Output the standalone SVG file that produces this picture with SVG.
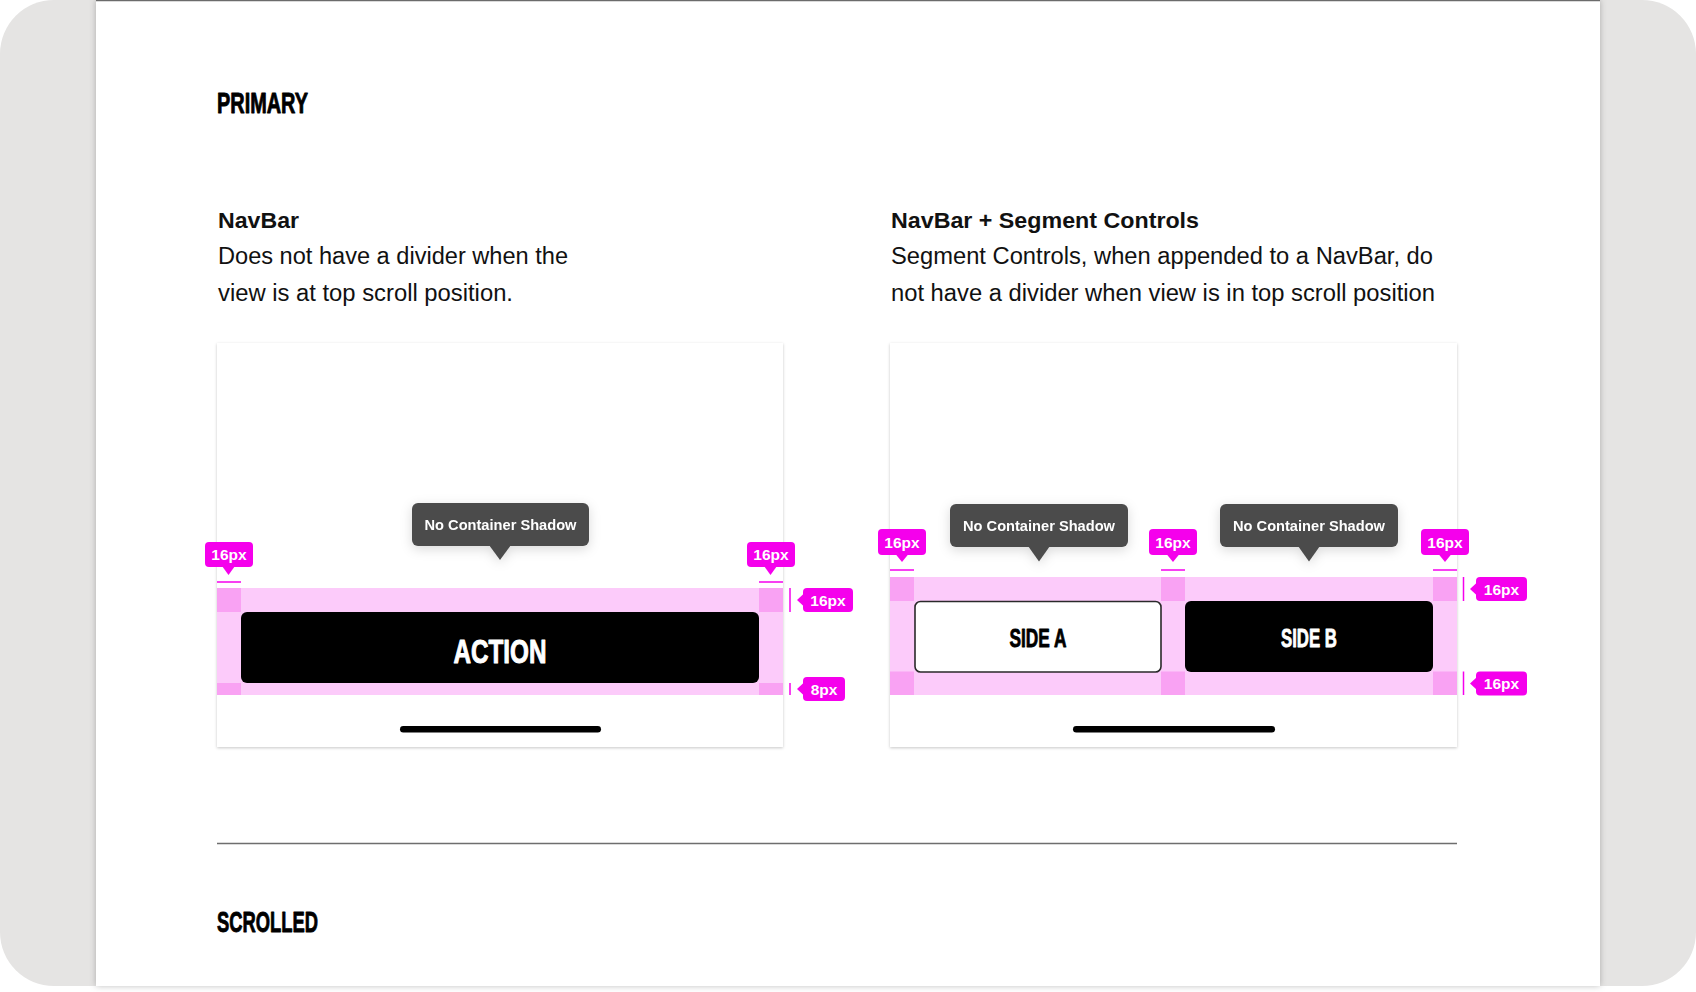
<svg xmlns="http://www.w3.org/2000/svg" width="1696" height="992" viewBox="0 0 1696 992">
<defs>
<style>
.cond{font-family:"Liberation Sans",Arial,sans-serif;font-weight:bold;stroke-linejoin:round;}
.head{font-family:"Liberation Sans",Arial,sans-serif;font-weight:bold;font-size:22px;fill:#111;}
.body{font-family:"Liberation Sans",Arial,sans-serif;font-size:23px;fill:#111;}
.tip{fill:#4b4b4b;}
.tipt{font-family:"Liberation Sans",Arial,sans-serif;font-weight:bold;font-size:14.5px;fill:#fff;text-anchor:middle;}
.mag{fill:#f500ec;}
.magl{stroke:#f500ec;stroke-width:1.5;fill:none;}
.magt{font-family:"Liberation Sans",Arial,sans-serif;font-weight:bold;font-size:15.5px;fill:#fff;text-anchor:middle;}
.band{fill:#fccbfa;}
.sq{fill:#f9a2f3;}
.card{fill:#fff;}
</style>
<filter id="pageSh" x="-5%" y="-5%" width="110%" height="110%">
<feDropShadow dx="0" dy="0" stdDeviation="3" flood-color="#000" flood-opacity="0.25"/>
</filter>
<filter id="cardSh" x="-5%" y="-5%" width="110%" height="110%">
<feDropShadow dx="0" dy="1" stdDeviation="1.5" flood-color="#000" flood-opacity="0.22"/>
</filter>
<filter id="tipSh" x="-30%" y="-60%" width="160%" height="220%">
<feDropShadow dx="0" dy="3" stdDeviation="6" flood-color="#000" flood-opacity="0.15"/>
</filter>
</defs>

<rect x="0" y="0" width="1696" height="992" fill="#fff"/>
<rect x="0" y="0" width="1696" height="986" rx="54" ry="54" fill="#e5e4e3"/>
<rect x="96" y="0" width="1504" height="986" fill="#fff" filter="url(#pageSh)"/>
<rect x="96" y="0" width="1504" height="986" fill="#fff"/>
<line x1="96" y1="0.5" x2="1600" y2="0.5" stroke="#6b6b6b" stroke-width="1.5"/>

<g id="title-primary">
<text class="cond" x="217" y="113" font-size="29" textLength="91" lengthAdjust="spacingAndGlyphs" fill="#000" stroke="#000" stroke-width="0.9">PRIMARY</text>
</g>

<g id="navbar-desc">
<text class="head" x="218" y="228" textLength="81" lengthAdjust="spacingAndGlyphs">NavBar</text>
<text class="body" x="218" y="264" textLength="350" lengthAdjust="spacingAndGlyphs">Does not have a divider when the</text>
<text class="body" x="218" y="301" textLength="295" lengthAdjust="spacingAndGlyphs">view is at top scroll position.</text>
</g>

<g id="segment-desc">
<text class="head" x="891" y="228" textLength="308" lengthAdjust="spacingAndGlyphs">NavBar + Segment Controls</text>
<text class="body" x="891" y="264" textLength="542" lengthAdjust="spacingAndGlyphs">Segment Controls, when appended to a NavBar, do</text>
<text class="body" x="891" y="301" textLength="544" lengthAdjust="spacingAndGlyphs">not have a divider when view is in top scroll position</text>
</g>

<g id="card-navbar">
<rect class="card" x="217" y="343" width="566" height="404" filter="url(#cardSh)"/>
<rect class="band" x="217" y="588" width="566" height="107"/>
<rect class="sq" x="217" y="588" width="24" height="24"/>
<rect class="sq" x="759" y="588" width="24" height="24"/>
<rect class="sq" x="217" y="683" width="24" height="12"/>
<rect class="sq" x="759" y="683" width="24" height="12"/>
<rect x="241" y="612" width="518" height="71" rx="6" fill="#000"/>
<text class="cond" x="453.5" y="662.5" font-size="34" textLength="93" lengthAdjust="spacingAndGlyphs" fill="#fff" stroke="#fff" stroke-width="1">ACTION</text>
<rect x="400" y="726" width="201" height="6.5" rx="3.25" fill="#000"/>
</g>

<g id="tooltip-navbar" filter="url(#tipSh)">
<rect class="tip" x="412" y="503" width="177" height="43" rx="6"/>
<path class="tip" d="M489 545 L511 545 L500 560 Z"/>
<text class="tipt" x="500.5" y="530" textLength="152" lengthAdjust="spacingAndGlyphs">No Container Shadow</text>
</g>

<g id="spec-navbar">
<rect class="mag" x="205" y="542" width="48" height="25" rx="4"/>
<path class="mag" d="M222 566 L235 566 L228.5 575 Z"/>
<text class="magt" x="229" y="560">16px</text>
<line class="magl" x1="217" y1="582" x2="241" y2="582"/>

<rect class="mag" x="747" y="542" width="48" height="25" rx="4"/>
<path class="mag" d="M764 566 L777 566 L770.5 575 Z"/>
<text class="magt" x="771" y="560">16px</text>
<line class="magl" x1="759" y1="582" x2="783" y2="582"/>

<line class="magl" x1="790" y1="588" x2="790" y2="612"/>
<rect class="mag" x="803" y="588" width="50" height="24" rx="4"/>
<path class="mag" d="M804 593.5 L804 606.5 L797 600 Z"/>
<text class="magt" x="828" y="605.5">16px</text>

<line class="magl" x1="790" y1="683" x2="790" y2="695"/>
<rect class="mag" x="803" y="677" width="42" height="24" rx="4"/>
<path class="mag" d="M804 682.5 L804 695.5 L797 689 Z"/>
<text class="magt" x="824" y="694.5">8px</text>
</g>

<g id="card-segment">
<rect class="card" x="890" y="343" width="567" height="404" filter="url(#cardSh)"/>
<rect class="band" x="890" y="577" width="567" height="118"/>
<rect class="sq" x="890" y="577" width="24" height="24"/>
<rect class="sq" x="1161" y="577" width="24" height="24"/>
<rect class="sq" x="1433" y="577" width="24" height="24"/>
<rect class="sq" x="890" y="671.5" width="24" height="23.5"/>
<rect class="sq" x="1161" y="671.5" width="24" height="23.5"/>
<rect class="sq" x="1433" y="671.5" width="24" height="23.5"/>
<rect x="915" y="601.5" width="246" height="70.5" rx="5.5" fill="#fff" stroke="#2a2a2a" stroke-width="1.6"/>
<text class="cond" x="1009.5" y="646.5" font-size="25" textLength="57" lengthAdjust="spacingAndGlyphs" fill="#000" stroke="#000" stroke-width="0.8">SIDE A</text>
<rect x="1185" y="601" width="248" height="71" rx="6" fill="#000"/>
<text class="cond" x="1281" y="646.5" font-size="25" textLength="56" lengthAdjust="spacingAndGlyphs" fill="#fff" stroke="#fff" stroke-width="0.8">SIDE B</text>
<rect x="1073" y="726" width="202" height="6.5" rx="3.25" fill="#000"/>
</g>

<g id="tooltip-side-a" filter="url(#tipSh)">
<rect class="tip" x="950" y="504" width="178" height="43" rx="6"/>
<path class="tip" d="M1028 546 L1050 546 L1039 561.5 Z"/>
<text class="tipt" x="1039" y="531" textLength="152" lengthAdjust="spacingAndGlyphs">No Container Shadow</text>
</g>

<g id="tooltip-side-b" filter="url(#tipSh)">
<rect class="tip" x="1220" y="504" width="178" height="43" rx="6"/>
<path class="tip" d="M1298 546 L1320 546 L1309 561.5 Z"/>
<text class="tipt" x="1309" y="531" textLength="152" lengthAdjust="spacingAndGlyphs">No Container Shadow</text>
</g>

<g id="spec-segment">
<rect class="mag" x="878" y="529" width="48" height="26" rx="4"/>
<path class="mag" d="M895.5 554 L908.5 554 L902 562 Z"/>
<text class="magt" x="902" y="547.5">16px</text>
<line class="magl" x1="890" y1="570" x2="914" y2="570"/>

<rect class="mag" x="1149" y="529" width="48" height="26" rx="4"/>
<path class="mag" d="M1166.5 554 L1179.5 554 L1173 562 Z"/>
<text class="magt" x="1173" y="547.5">16px</text>
<line class="magl" x1="1161" y1="570" x2="1185" y2="570"/>

<rect class="mag" x="1421" y="529" width="48" height="26" rx="4"/>
<path class="mag" d="M1438.5 554 L1451.5 554 L1445 562 Z"/>
<text class="magt" x="1445" y="547.5">16px</text>
<line class="magl" x1="1433" y1="570" x2="1457" y2="570"/>

<line class="magl" x1="1463.5" y1="577" x2="1463.5" y2="601"/>
<rect class="mag" x="1476" y="577" width="51" height="24" rx="4"/>
<path class="mag" d="M1477 582.5 L1477 595.5 L1470 589 Z"/>
<text class="magt" x="1501.5" y="594.5">16px</text>

<line class="magl" x1="1463.5" y1="671.5" x2="1463.5" y2="695"/>
<rect class="mag" x="1476" y="671.5" width="51" height="24" rx="4"/>
<path class="mag" d="M1477 677 L1477 690 L1470 683.5 Z"/>
<text class="magt" x="1501.5" y="689">16px</text>
</g>

<g id="divider">
<line x1="217" y1="843.5" x2="1457" y2="843.5" stroke="#6e6e6e" stroke-width="1.5"/>
</g>

<g id="title-scrolled">
<text class="cond" x="217" y="931.5" font-size="30" textLength="101" lengthAdjust="spacingAndGlyphs" fill="#000" stroke="#000" stroke-width="0.9">SCROLLED</text>
</g>
</svg>
